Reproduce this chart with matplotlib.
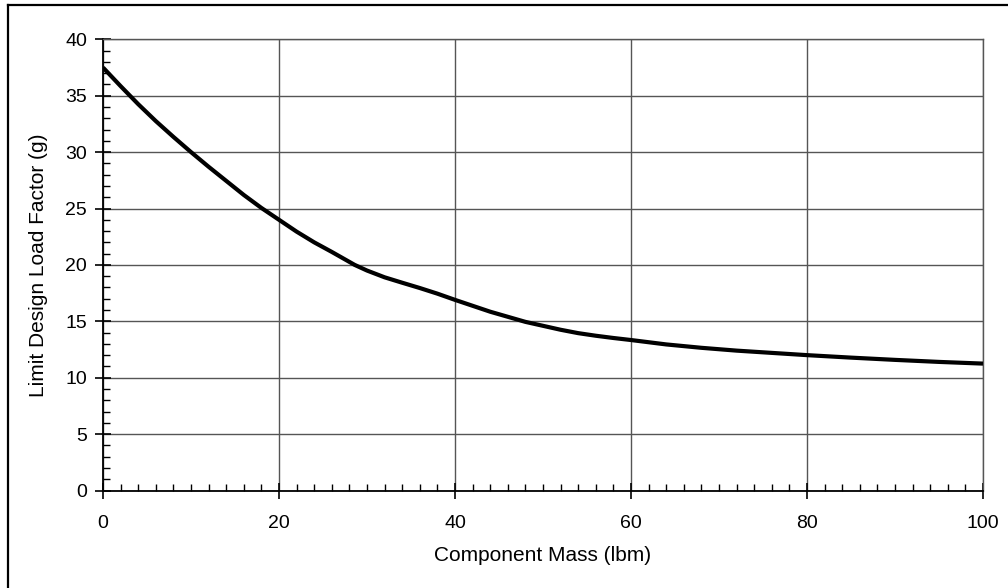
import matplotlib
matplotlib.use("Agg")
import matplotlib.pyplot as plt
from matplotlib.lines import Line2D
from matplotlib.ticker import MultipleLocator

mass = [0, 2, 3, 4, 6, 8, 10, 12, 14, 16, 18, 20, 22, 24, 26, 28.6, 30, 32, 34,
        36, 38, 40, 44, 48, 50, 52, 54, 56, 58, 60, 64, 68, 72, 76, 80, 85, 90,
        95, 100]
load = [37.5, 35.85, 35.05, 34.25, 32.75, 31.35, 30.0, 28.7, 27.45, 26.2, 25.05, 24.0,
        22.95, 22.0, 21.15, 20.0, 19.5, 18.9, 18.42, 17.95, 17.45, 16.9, 15.85,
        14.95, 14.6, 14.25, 13.95, 13.72, 13.52, 13.34, 12.95, 12.65, 12.4, 12.2,
        12.0, 11.78, 11.58, 11.4, 11.25]

xlabel = "Component Mass (lbm)"
ylabel = "Limit Design Load Factor (g)"

plt.rcParams['font.family'] = ['Liberation Sans', 'DejaVu Sans']

fig = plt.figure(figsize=(10.08, 5.88), dpi=100)
ax = fig.add_axes([103/1008, 1 - 490.5/588, 880/1008, 451.2/588])

ax.plot(mass, load, color='black', lw=3, solid_capstyle='butt',
        solid_joinstyle='round', zorder=3)

ax.set_xlim(0, 100)
ax.set_ylim(0, 40)
ax.xaxis.set_major_locator(MultipleLocator(20))
ax.xaxis.set_minor_locator(MultipleLocator(2))
ax.yaxis.set_major_locator(MultipleLocator(5))
ax.yaxis.set_minor_locator(MultipleLocator(1))

ax.grid(True, which='major', color='#555555', lw=1.0)
ax.set_axisbelow(True)

for s in ['top', 'right']:
    ax.spines[s].set_color('#555555')
    ax.spines[s].set_linewidth(1.0)
for s in ['left', 'bottom']:
    ax.spines[s].set_color('black')
    ax.spines[s].set_linewidth(1.3)

ax.tick_params(which='major', direction='inout', length=11, width=1.2,
               labelsize=14, color='black', top=False, right=False)
ax.tick_params(axis='y', which='minor', direction='in', length=5, width=1.0, right=False)
ax.tick_params(axis='x', which='minor', direction='in', length=5, width=1.0, top=False)
ax.tick_params(axis='y', which='major', pad=6)
ax.tick_params(axis='x', which='major', pad=12)

ax.set_xlabel(xlabel, fontsize=15, labelpad=10)
ax.set_ylabel(ylabel, fontsize=15, labelpad=12)

fig.add_artist(Line2D([8/1008, 8/1008], [-0.1, 1 - 5/588], transform=fig.transFigure,
                      color='black', lw=1.6))
fig.add_artist(Line2D([8/1008, 1.1], [1 - 5/588, 1 - 5/588], transform=fig.transFigure,
                      color='black', lw=1.6))

fig.savefig("out.png", dpi=100)
